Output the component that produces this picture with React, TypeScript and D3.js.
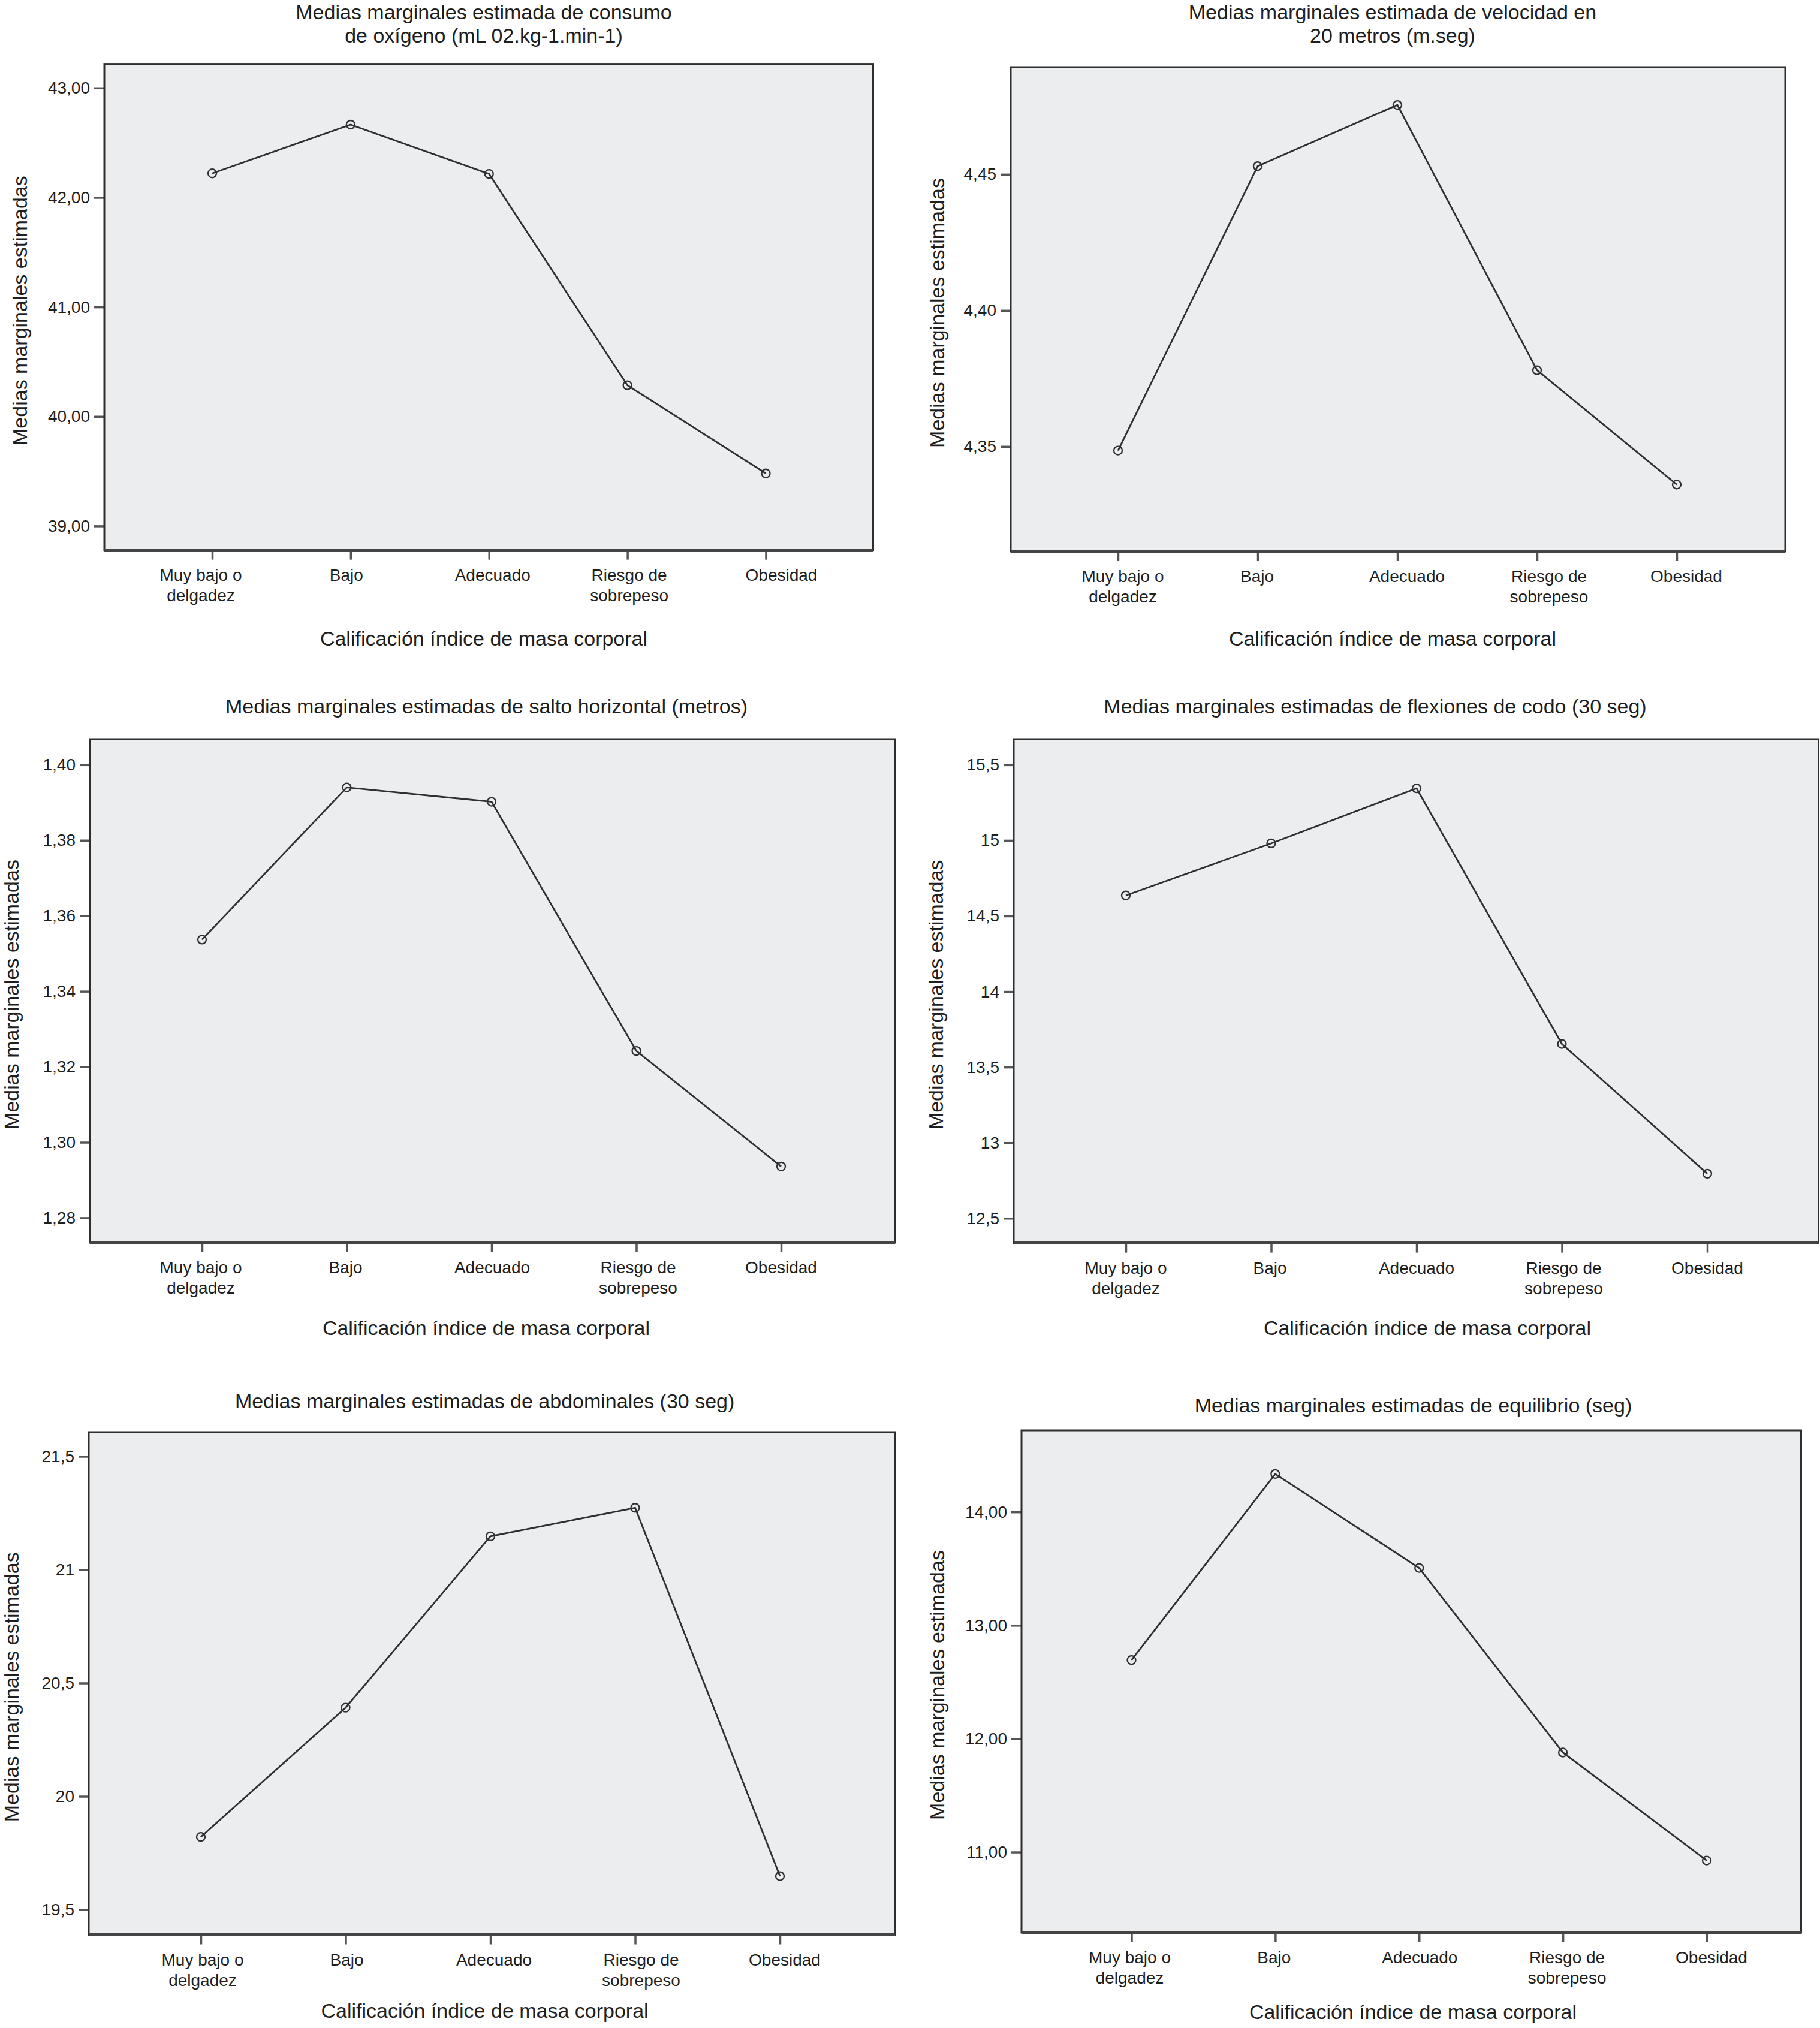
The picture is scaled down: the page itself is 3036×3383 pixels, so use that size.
import React, { useRef, useEffect } from "react";
import * as d3 from "d3";

// categories on the x axis (same for all six charts)
const categories = ["Muy bajo o delgadez", "Bajo", "Adecuado", "Riesgo de sobrepeso", "Obesidad"];
const categoryLines = [["Muy bajo o", "delgadez"], ["Bajo"], ["Adecuado"], ["Riesgo de", "sobrepeso"], ["Obesidad"]];

// estimated marginal means
const oxigeno = [42.22, 42.665, 42.215, 40.285, 39.48];
const velocidad = [4.3485, 4.453, 4.4755, 4.378, 4.336];
const salto = [1.3537, 1.394, 1.3902, 1.3242, 1.2936];
const flexiones = [14.636, 14.98, 15.344, 13.653, 12.795];
const abdominales = [19.821, 20.391, 21.147, 21.273, 19.648];
const equilibrio = [12.694, 14.335, 13.506, 11.878, 10.926];

// y axis extents
const oxigenoDomain = [38.78, 43.22];
const velocidadDomain = [4.3114, 4.4894];
const saltoDomain = [1.2734, 1.4068];
const flexionesDomain = [12.336, 15.67];
const abdominalesDomain = [19.389, 21.607];
const equilibrioDomain = [10.289, 14.72];

// tick values and labels
const oxigenoTicks = [39, 40, 41, 42, 43];
const oxigenoLabels = ["39,00", "40,00", "41,00", "42,00", "43,00"];
const velocidadTicks = [4.35, 4.4, 4.45];
const velocidadLabels = ["4,35", "4,40", "4,45"];
const saltoTicks = [1.28, 1.3, 1.32, 1.34, 1.36, 1.38, 1.4];
const saltoLabels = ["1,28", "1,30", "1,32", "1,34", "1,36", "1,38", "1,40"];
const flexionesTicks = [12.5, 13, 13.5, 14, 14.5, 15, 15.5];
const flexionesLabels = ["12,5", "13", "13,5", "14", "14,5", "15", "15,5"];
const abdominalesTicks = [19.5, 20, 20.5, 21, 21.5];
const abdominalesLabels = ["19,5", "20", "20,5", "21", "21,5"];
const equilibrioTicks = [11, 12, 13, 14];
const equilibrioLabels = ["11,00", "12,00", "13,00", "14,00"];

const yTitle = "Medias marginales estimadas";
const xTitle = "Calificación índice de masa corporal";

const panels = [
  {
    title: ["Medias marginales estimada de consumo", "de oxígeno (mL 02.kg-1.min-1)"],
    values: oxigeno, domain: oxigenoDomain, ticks: oxigenoTicks, labels: oxigenoLabels,
    box: { l: 174, t: 106.6, r: 1456.5, b: 917.6 }, pad: [180, 179],
    labelShift: [-19, -7, 6, 3, 26],
    titleX: 807, titleY: 32, yTitleX: 33.5, xTitleX: 807, xTitleY: 1077,
  },
  {
    title: ["Medias marginales estimada de velocidad en", "20 metros (m.seg)"],
    values: velocidad, domain: velocidadDomain, ticks: velocidadTicks, labels: velocidadLabels,
    box: { l: 1686, t: 112, r: 2978, b: 920 }, pad: [179, 181],
    labelShift: [8, -1, 16, 20, 16],
    titleX: 2323, titleY: 32, yTitleX: 1563.5, xTitleX: 2323, xTitleY: 1077,
  },
  {
    title: ["Medias marginales estimadas de salto horizontal (metros)"],
    values: salto, domain: saltoDomain, ticks: saltoTicks, labels: saltoLabels,
    box: { l: 150, t: 1233, r: 1493, b: 2073 }, pad: [187, 190],
    labelShift: [-2, -2, 1, 3, 0],
    titleX: 811.5, titleY: 1190, yTitleX: 19, xTitleX: 811, xTitleY: 2227,
  },
  {
    title: ["Medias marginales estimadas de flexiones de codo (30 seg)"],
    values: flexiones, domain: flexionesDomain, ticks: flexionesTicks, labels: flexionesLabels,
    box: { l: 1691, t: 1233, r: 3033.5, b: 2073.6 }, pad: [187, 185.5],
    labelShift: [0, -2, 0, 3, 0],
    titleX: 2294, titleY: 1190, yTitleX: 1560.6, xTitleX: 2381, xTitleY: 2227,
  },
  {
    title: ["Medias marginales estimadas de abdominales (30 seg)"],
    values: abdominales, domain: abdominalesDomain, ticks: abdominalesTicks, labels: abdominalesLabels,
    box: { l: 148, t: 2389, r: 1493, b: 3227.5 }, pad: [187, 192],
    labelShift: [3, 2, 6, 10, 8],
    titleX: 808.6, titleY: 2349, yTitleX: 19, xTitleX: 808.6, xTitleY: 3366,
  },
  {
    title: ["Medias marginales estimadas de equilibrio (seg)"],
    values: equilibrio, domain: equilibrioDomain, ticks: equilibrioTicks, labels: equilibrioLabels,
    box: { l: 1704, t: 2386, r: 3004.5, b: 3224 }, pad: [183.5, 157.5],
    labelShift: [-3, -2, 1, 7, 8],
    titleX: 2357.5, titleY: 2356, yTitleX: 1563.5, xTitleX: 2357, xTitleY: 3368,
  },
];

const W = 3036;
const H = 3383;
const FONT = "'Liberation Sans', Arial, Helvetica, sans-serif";
const INK = "#1e1e1e";

const App: React.FC = () => {
  const ref = useRef<SVGSVGElement | null>(null);

  useEffect(() => {
    const svg = d3.select(ref.current);
    svg.selectAll("*").remove();
    svg.append("rect").attr("width", W).attr("height", H).attr("fill", "#fff");

    panels.forEach(p => {
      const { l, t, r, b } = p.box;
      const g = svg.append("g");

      const x = d3.scalePoint<string>().domain(categories).range([l + p.pad[0], r - p.pad[1]]);
      const y = d3.scaleLinear().domain(p.domain).range([b, t]);

      // plot background
      g.append("rect")
        .attr("x", l).attr("y", t)
        .attr("width", r - l).attr("height", b - t)
        .attr("fill", "#ebedef");

      // title
      p.title.forEach((line, i) => {
        g.append("text")
          .attr("x", p.titleX).attr("y", p.titleY + i * 38.5)
          .attr("text-anchor", "middle")
          .attr("font-size", 34).attr("font-family", FONT).attr("fill", INK)
          .text(line);
      });

      // y axis
      const yAxis = g.append("g")
        .attr("transform", `translate(${l},0)`)
        .call(
          d3.axisLeft(y)
            .tickValues(p.ticks)
            .tickFormat((_d, i) => p.labels[i])
            .tickSize(17)
            .tickPadding(7)
        );
      yAxis.select(".domain").remove();
      yAxis.selectAll(".tick line").attr("stroke", "#555").attr("stroke-width", 3.5);
      yAxis.selectAll(".tick text")
        .attr("font-size", 28).attr("font-family", FONT).attr("fill", INK);

      // x axis
      const xAxis = g.append("g")
        .attr("transform", `translate(0,${b})`)
        .call(d3.axisBottom(x).tickSize(16).tickFormat(() => ""));
      xAxis.select(".domain").remove();
      xAxis.selectAll(".tick line").attr("stroke", "#555").attr("stroke-width", 3.5);
      xAxis.selectAll(".tick text").remove();

      categories.forEach((c, i) => {
        const cx = x(c)! + p.labelShift[i];
        const txt = g.append("text")
          .attr("x", cx)
          .attr("y", b + 51)
          .attr("text-anchor", "middle")
          .attr("font-size", 28).attr("font-family", FONT).attr("fill", INK);
        categoryLines[i].forEach((line, j) => {
          txt.append("tspan").attr("x", cx).attr("dy", j === 0 ? 0 : 34).text(line);
        });
      });

      // axis titles
      g.append("text")
        .attr("x", p.xTitleX).attr("y", p.xTitleY)
        .attr("text-anchor", "middle")
        .attr("font-size", 34).attr("font-family", FONT).attr("fill", INK)
        .text(xTitle);

      const cy = (t + b) / 2 + 6;
      g.append("text")
        .attr("transform", `translate(${p.yTitleX},${cy}) rotate(-90)`)
        .attr("text-anchor", "middle")
        .attr("dy", "0.35em")
        .attr("font-size", 34).attr("font-family", FONT).attr("fill", INK)
        .text(yTitle);

      // line + markers
      const line = d3.line<number>()
        .x((_v, i) => x(categories[i])!)
        .y(v => y(v));

      g.append("path")
        .datum(p.values)
        .attr("d", line)
        .attr("fill", "none")
        .attr("stroke", "#2f2f2f")
        .attr("stroke-width", 2.8);

      g.selectAll(".pt")
        .data(p.values)
        .enter()
        .append("circle")
        .attr("class", "pt")
        .attr("cx", (_v, i) => x(categories[i])!)
        .attr("cy", v => y(v))
        .attr("r", 7)
        .attr("fill", "none")
        .attr("stroke", "#2f2f2f")
        .attr("stroke-width", 2.3);

      // frame
      g.append("rect")
        .attr("x", l).attr("y", t)
        .attr("width", r - l).attr("height", b - t)
        .attr("fill", "none")
        .attr("stroke", "#2e2e2e")
        .attr("stroke-width", 3);
      g.append("line")
        .attr("x1", l).attr("x2", r)
        .attr("y1", b).attr("y2", b)
        .attr("stroke", "#444")
        .attr("stroke-width", 5);
    });
  }, []);

  return (
    <svg
      ref={ref}
      width={W}
      height={H}
      style={{ position: "absolute", left: 0, top: 0, display: "block" }}
    />
  );
};

export default App;
